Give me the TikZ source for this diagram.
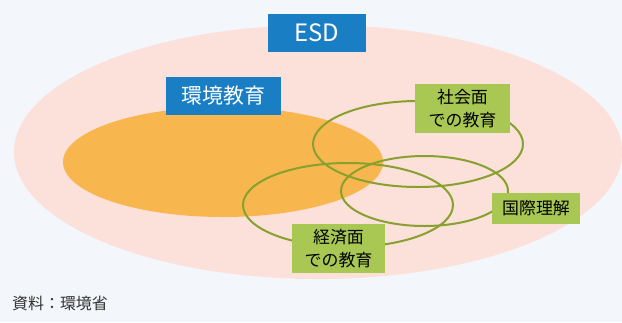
\documentclass[tikz,border=0pt]{standalone}
\usepackage{fontspec}
\newfontfamily\jp{Noto Sans CJK JP}
\definecolor{bgc}{HTML}{F3F6FB}
\definecolor{pinkc}{HTML}{FCE0DA}
\definecolor{orangec}{HTML}{F8B74E}
\definecolor{bluec}{HTML}{1A7EC4}
\definecolor{greenbox}{HTML}{A8C853}
\definecolor{greenline}{HTML}{87A12F}
\tikzset{
  bluebox/.style={fill=bluec, text=white, inner sep=0pt, font=\jp},
  greenlbl/.style={fill=greenbox, text=black, inner sep=0pt, align=center, font=\jp\fontsize{17}{23}\selectfont},
  ring/.style={draw=greenline, line width=2bp}
}
\begin{document}
\begin{tikzpicture}[x=1bp,y=-1bp]
\useasboundingbox (0,0) rectangle (622,322);
\fill[bgc] (0,0) rectangle (622,322);
\begin{scope}
\clip (0,0) rectangle (622,322);
\fill[pinkc] (318,152) ellipse [x radius=304, y radius=127];
\end{scope}
\fill[orangec] (223,162) ellipse [x radius=160, y radius=55];
\node[bluebox, minimum width=98bp, minimum height=38bp, font=\jp\fontsize{24}{28}\selectfont] (esd) at (317,33) {ESD};
\node[bluebox, minimum width=115bp, minimum height=38bp, font=\jp\fontsize{21}{25}\selectfont] (kankyo) at (223.5,96) {環境教育};
\draw[ring] (418,144) ellipse [x radius=105, y radius=43];
\draw[ring] (348,205) ellipse [x radius=105, y radius=42];
\draw[ring] (424.5,191) ellipse [x radius=83.5, y radius=35];
\node[greenlbl, minimum width=95bp, minimum height=49bp] (shakai) at (462.5,108.5) {社会面\\での教育};
\node[greenlbl, minimum width=88bp, minimum height=31bp] (kokusai) at (536,208.5) {国際理解};
\node[greenlbl, minimum width=93bp, minimum height=49bp] (keizai) at (338.5,248.5) {経済面\\での教育};
\node[anchor=west, inner sep=0pt, text=black!80, font=\jp\fontsize{16}{19}\selectfont] (src) at (12,303) {資料：環境省};
\end{tikzpicture}
\end{document}
